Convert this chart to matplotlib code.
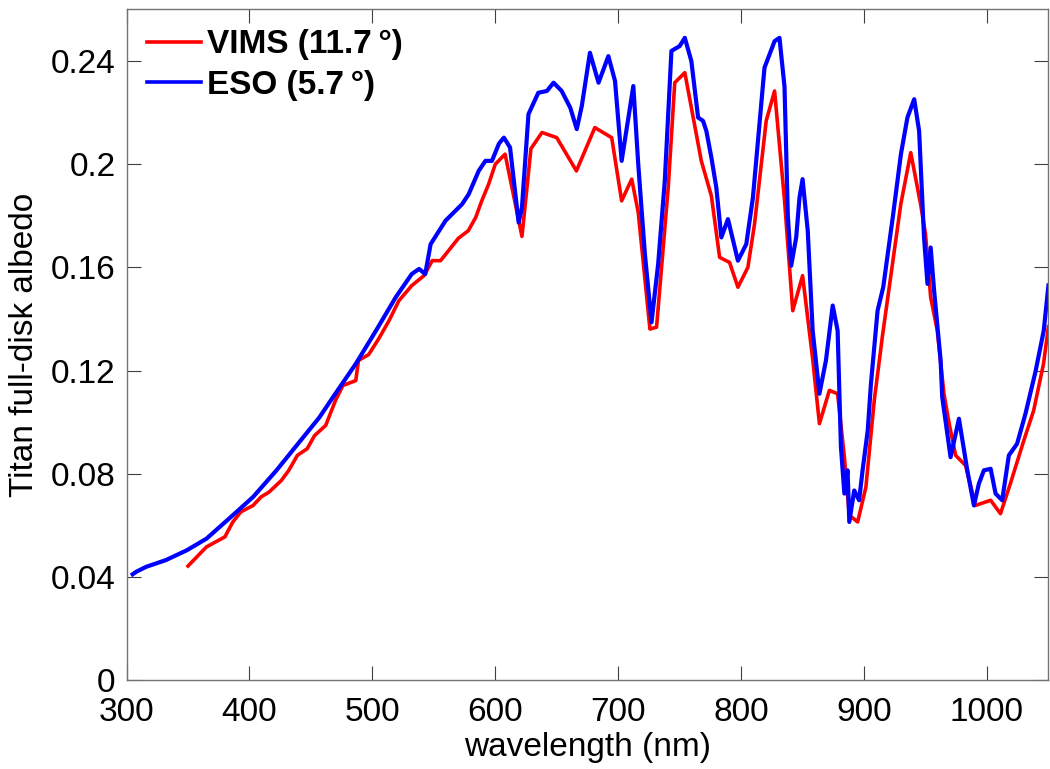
import matplotlib

matplotlib.use("Agg")
import matplotlib.pyplot as plt

# VIMS disk-integrated albedo (coarse sampling)
vims_wl = [350, 365, 380, 386.5, 393, 403, 409.5, 416, 426, 432, 439, 447, 453, 462, 470,
           476, 486.5, 488.7, 497, 505, 513.5, 521.6, 532, 542, 548.7, 555.5, 570, 578, 584,
           589, 594.6, 600, 608, 621.7, 629, 638, 650, 666, 681, 694.7, 702.8, 711, 716.3,
           725.8, 731.2, 740.7, 746, 754.2, 767.6, 775.8, 782.5, 790.6, 797.4, 805.5, 810.9,
           820.4, 827.2, 835.3, 842, 850, 858.2, 863.7, 871.8, 878.5, 884, 888, 894.8, 901.5,
           908.3, 915, 929.9, 938, 946, 950, 954.2, 959.6, 965, 969, 974.5, 982.6, 990.7,
           1003, 1011, 1019, 1030, 1038, 1046, 1050]
vims_alb = [0.0442, 0.0516, 0.0555, 0.0613, 0.0652, 0.0677, 0.0710, 0.0729, 0.0774, 0.0813,
            0.0871, 0.0897, 0.0948, 0.0987, 0.1084, 0.1142, 0.1161, 0.1239, 0.1262, 0.1322,
            0.1393, 0.1471, 0.1529, 0.1568, 0.1626, 0.1626, 0.1713, 0.1742, 0.1793, 0.1858,
            0.1923, 0.2000, 0.2039, 0.1720, 0.2060, 0.2123, 0.2103, 0.1974, 0.2142, 0.2103,
            0.1858, 0.1942, 0.1813, 0.1361, 0.1368, 0.1910, 0.2316, 0.2355, 0.2013, 0.1877,
            0.1639, 0.1619, 0.1523, 0.1600, 0.1768, 0.2168, 0.2284, 0.1860, 0.1432, 0.1568,
            0.1245, 0.0994, 0.1123, 0.1110, 0.0864, 0.0639, 0.0613, 0.0748, 0.1084, 0.1335,
            0.1845, 0.2045, 0.1845, 0.1729, 0.1484, 0.1355, 0.1110, 0.1000, 0.0871, 0.0832,
            0.0677, 0.0697, 0.0645, 0.0761, 0.0929, 0.1045, 0.1226, 0.1370]

# ESO ground-based spectrum
eso_wl = [305, 308, 316, 332, 349, 365, 386.5, 403, 422, 441, 457, 468, 486.5, 503, 519,
          532, 538, 543, 547.4, 559.5, 573, 578.4, 586.5, 592, 597.3, 603, 607, 612, 619,
          621.7, 627, 635, 642, 647.4, 654, 661, 666.3, 670.4, 677, 684, 692, 697.4, 702.8,
          712.3, 716.3, 721.7, 727.1, 732.5, 737.9, 743.3, 750, 754.2, 759.5, 765, 769,
          771.7, 775.8, 779.8, 783.9, 789.3, 797.4, 804.2, 809.6, 819, 827.2, 831.2, 835.3,
          838, 840.7, 844.8, 847.5, 850, 854.2, 858.2, 863.7, 869, 874.5, 878.5, 881.2, 884,
          886.6, 888, 892, 896, 898.8, 903, 905.6, 911, 915.6, 923.7, 930, 935.3, 940.8,
          944.8, 948.8, 951.6, 954.2, 957, 962.3, 963.6, 970.4, 977.2, 984, 989.4, 993.4,
          997.5, 1003, 1007, 1012.4, 1017.8, 1024.5, 1031.3, 1039.4, 1046.2, 1050]
eso_alb = [0.0410, 0.0420, 0.0439, 0.0465, 0.0503, 0.0548, 0.0639, 0.0710, 0.0813, 0.0925,
           0.1019, 0.1097, 0.1226, 0.1355, 0.1484, 0.1574, 0.1594, 0.1574, 0.1690, 0.1781,
           0.1845, 0.1884, 0.1974, 0.2013, 0.2013, 0.2080, 0.2103, 0.2065, 0.1774, 0.1832,
           0.2194, 0.2277, 0.2284, 0.2316, 0.2284, 0.2219, 0.2136, 0.2226, 0.2432, 0.2316,
           0.2419, 0.2323, 0.2013, 0.2303, 0.2000, 0.1652, 0.1387, 0.1613, 0.1935, 0.2439,
           0.2458, 0.2490, 0.2400, 0.2181, 0.2168, 0.2129, 0.2026, 0.1910, 0.1716, 0.1787,
           0.1626, 0.1690, 0.1871, 0.2374, 0.2477, 0.2490, 0.2300, 0.1800, 0.1606, 0.1716,
           0.1871, 0.1942, 0.1742, 0.1355, 0.1110, 0.1239, 0.1452, 0.1355, 0.0903, 0.0723,
           0.0813, 0.0613, 0.0735, 0.0697, 0.0813, 0.0968, 0.1148, 0.1432, 0.1523, 0.1806,
           0.2039, 0.2181, 0.2252, 0.2129, 0.1716, 0.1536, 0.1677, 0.1510, 0.1239, 0.1097,
           0.0864, 0.1013, 0.0813, 0.0677, 0.0761, 0.0813, 0.0819, 0.0723, 0.0697, 0.0871,
           0.0916, 0.1032, 0.1194, 0.1355, 0.1530]

x_ticks = [300, 400, 500, 600, 700, 800, 900, 1000]
y_ticks = [0, 0.04, 0.08, 0.12, 0.16, 0.2, 0.24]
y_tick_labels = ["0", "0.04", "0.08", "0.12", "0.16", "0.2", "0.24"]


def main() -> None:
    plt.rcParams["font.family"] = ["Liberation Sans", "DejaVu Sans"]
    fig = plt.figure(figsize=(10.5, 7.69), dpi=100)
    ax = fig.add_axes([0.1205, 0.1157, 0.878, 0.872])

    ax.plot(vims_wl, vims_alb, color="#ff0000", lw=2.6, label="VIMS (11.7\u2009\u00b0)")
    ax.plot(eso_wl, eso_alb, color="#0000ff", lw=3.0, label="ESO (5.7\u2009\u00b0)")

    ax.set_xlim(300, 1050)
    ax.set_ylim(0, 0.26)
    ax.set_xticks(x_ticks)
    ax.set_yticks(y_ticks)
    ax.set_yticklabels(y_tick_labels)
    ax.tick_params(direction="in", length=10, width=0.8, labelsize=24, color="0.25",
                   top=True, right=True)
    ax.tick_params(axis="x", pad=12)
    ax.tick_params(axis="y", pad=8)
    for spine in ax.spines.values():
        spine.set_color("0.45")
        spine.set_linewidth(1.0)

    ax.set_xlabel("wavelength (nm)", fontsize=24, labelpad=3)
    ax.set_ylabel("Titan full-disk albedo", fontsize=24, labelpad=8)

    leg = ax.legend(loc="upper left", frameon=False, handlelength=1.63,
                    handletextpad=0.18, borderaxespad=0.2, labelspacing=0.28,
                    prop={"weight": "bold", "size": 24})
    for line in leg.get_lines():
        line.set_linewidth(2.6)

    fig.savefig("out.png", dpi=100)
    plt.close(fig)


if __name__ == "__main__":
    main()
